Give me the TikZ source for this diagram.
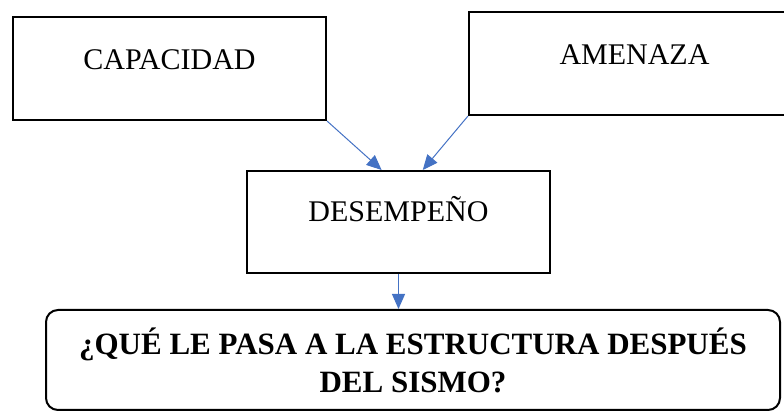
\documentclass[tikz,border=0pt]{standalone}
\usepackage{fontspec}
\setmainfont{Liberation Serif}
\usepackage{tikz}
\usetikzlibrary{arrows.meta}
\definecolor{azul}{HTML}{4472C4}

\begin{document}
\begin{tikzpicture}[x=1pt, y=1pt,
  caja/.style={draw, line width=2pt, rectangle, inner xsep=0pt, inner ysep=0pt, font=\fontsize{30}{36}\selectfont},
  flecha/.style={draw=azul, line width=1pt, -{Triangle[length=15pt, width=13pt]}}]
\useasboundingbox (0,0) rectangle (784,412);

\node[caja, minimum width=313pt, text height=53pt, text depth=50pt] (cap) at (169.5,343.5) {CAPACIDAD};
\node[caja, minimum width=331pt, text height=53pt, text depth=50pt] (ame) at (634.5,348.5) {AMENAZA};
\node[caja, minimum width=303pt, text height=51pt, text depth=51pt] (des) at (398.5,190) {DESEMPEÑO};
\node[caja, rounded corners=12pt, minimum width=734pt, minimum height=100pt, align=center, font=\fontsize{31}{38}\selectfont\bfseries] (q) at (413,52) {¿QUÉ LE PASA A LA ESTRUCTURA DESPUÉS\\DEL SISMO?};

\draw[flecha] (cap.south east) -- (des.108);
\draw[flecha] (ame.south west) -- (des.65);
\draw[flecha] (des.south) -- (des.south |- q.north);
\end{tikzpicture}
\end{document}
